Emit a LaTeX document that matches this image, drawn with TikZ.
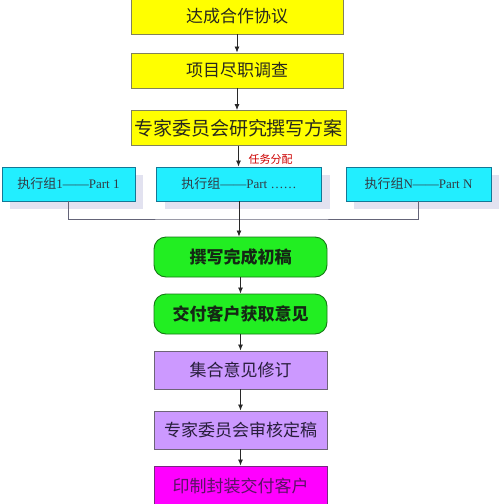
\documentclass[tikz,border=0pt]{standalone}
\usepackage{fontspec}
\setmainfont{Liberation Serif}
\newfontfamily\cjk{Noto Sans CJK SC}
\usetikzlibrary{arrows.meta,shadows}
\definecolor{boxyellow}{HTML}{FFFF00}
\definecolor{boxcyan}{HTML}{22EEFF}
\definecolor{boxgreen}{HTML}{22EE22}
\definecolor{boxpurple}{HTML}{CC99FF}
\definecolor{boxmagenta}{HTML}{FF00FF}
\definecolor{shadowgray}{HTML}{E2E2F0}
\begin{document}
\begin{tikzpicture}[x=1pt,y=-1pt,
base/.style={
draw,
inner sep=0pt,
line width=0.9pt,
align=center,
},
ybox/.style={
base,
fill=boxyellow,
draw={rgb,255:red,130;green,130;blue,90},
font={\cjk\fontsize{17pt}{17pt}\selectfont},
text={rgb,255:red,40;green,40;blue,30},
minimum height=35pt,
},
cbox/.style={
base,
fill=boxcyan,
draw={rgb,255:red,20;green,120;blue,150},
text={rgb,255:red,50;green,60;blue,70},
font={\fontsize{13pt}{13pt}\selectfont},
minimum height=34pt,
drop shadow={shadow xshift=8pt,shadow yshift=-8pt,fill=shadowgray,opacity=1},
},
gbox/.style={
base,
rounded corners=12pt,
fill=boxgreen,
draw={rgb,255:red,20;green,120;blue,20},
font={\cjk\bfseries\fontsize{17pt}{17pt}\selectfont},
text={rgb,255:red,20;green,40;blue,20},
minimum width=173pt,
minimum height=40pt,
},
pbox/.style={
base,
fill=boxpurple,
draw={rgb,255:red,110;green,100;blue,120},
font={\cjk\fontsize{17pt}{17pt}\selectfont},
text={rgb,255:red,40;green,30;blue,60},
minimum width=173pt,
minimum height=38pt,
},
flow/.style={
-{Latex[length=6pt,width=5pt]},
line width=0.8pt,
draw={rgb,255:red,40;green,40;blue,40},
},
bus/.style={
line width=0.8pt,
draw={rgb,255:red,100;green,100;blue,120},
},
]
\useasboundingbox (0,0) rectangle (499,504);
\node[ybox,minimum width=212pt](agree)at(237,16.5){达成合作协议};
\node[ybox,minimum width=212pt](check)at(237,70.5){项目尽职调查};
\node[ybox,minimum width=215pt,font={\cjk\fontsize{19pt}{19pt}\selectfont}](plan)at(238.5,128){专家委员会研究撰写方案};
\node[cbox,minimum width=133pt](g1)at(68.5,184){{\cjk 执行组}1——Part 1};
\node[cbox,minimum width=165pt](g2)at(239,184){{\cjk 执行组}——Part ……};
\node[cbox,minimum width=145pt](gN)at(418.5,184){{\cjk 执行组}N——Part N};
\node[gbox](draft)at(240.5,257){撰写完成初稿};
\node[gbox](feedback)at(240.5,314){交付客户获取意见};
\node[pbox](revise)at(240.5,370){集合意见修订};
\node[pbox](review)at(240.5,430){专家委员会审核定稿};
\node[pbox,fill=boxmagenta,draw={rgb,255:red,120;green,40;blue,130},text={rgb,255:red,90;green,20;blue,100},minimum height=40pt](print)at(240.5,486){印制封装交付客户};
\node[anchor=west,text=red!80!black,font={\cjk\fontsize{11pt}{11pt}\selectfont}](task)at(245,159){任务分配};
\coordinate(join)at(240,219);
\draw[flow](agree)--(check);
\draw[flow](check)--(check.south|-plan.north);
\draw[flow](plan.south)--(plan.south|-g2.north);
\draw[bus](g1.south)|-(join)-|(gN.south);
\draw[flow](g2.south)--(g2.south|-draft.north);
\draw[flow](draft)--(feedback);
\draw[flow](feedback)--(revise);
\draw[flow](revise)--(review);
\draw[flow](review)--(print);
\end{tikzpicture}
\end{document}
